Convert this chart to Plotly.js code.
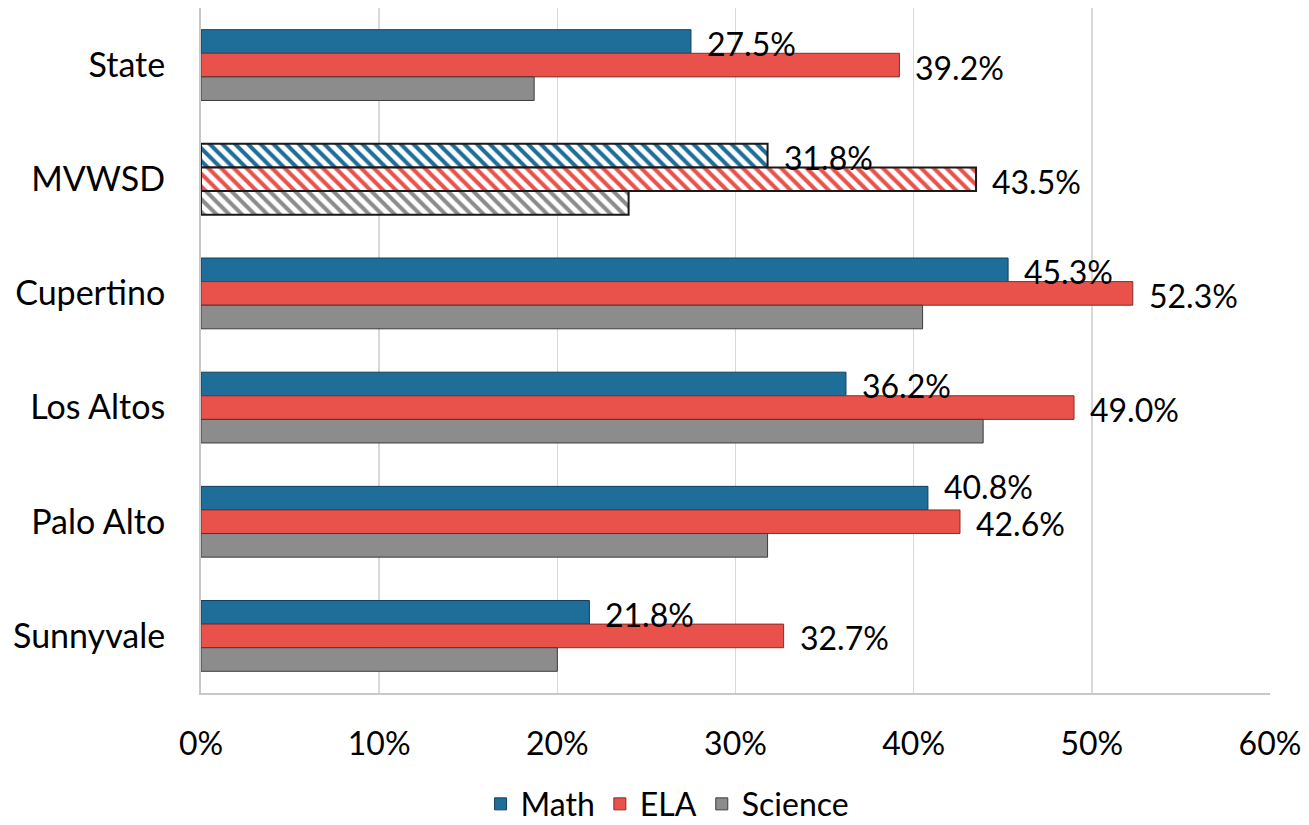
<!DOCTYPE html>
<html>
<head>
<meta charset="utf-8">
<script src="https://cdn.plot.ly/plotly-3.0.1.min.js"></script>
<style>html,body{margin:0;padding:0;background:#fff;}#chart{width:1309px;height:825px;}</style>
</head>
<body>
<div id="chart"></div>
<script>
const categories = ["State", "MVWSD", "Cupertino", "Los Altos", "Palo Alto", "Sunnyvale"];
const mathValues = [27.5, 31.8, 45.3, 36.2, 40.8, 21.8];
const elaValues = [39.2, 43.5, 52.3, 49.0, 42.6, 32.7];
const scienceValues = [18.7, 24.0, 40.5, 43.9, 31.8, 20.0];
const highlight = "MVWSD";

const FONT = "Lato, 'Open Sans', sans-serif";
const BARGAP = 0.38;
const NSERIES = 3;

function makeTrace(name, values, color, edge) {
  const isHi = categories.map(c => c === highlight);
  return {
    type: "bar",
    orientation: "h",
    name: name,
    y: categories,
    x: values,
    hoverinfo: "x+name",
    marker: {
      color: color,
      line: {
        color: isHi.map(h => h ? "#1a1a1a" : edge),
        width: isHi.map(h => h ? 2 : 1)
      },
      pattern: {
        shape: isHi.map(h => h ? "\\" : ""),
        fgcolor: isHi.map(h => color),
        bgcolor: isHi.map(h => h ? "#ffffff" : color),
        size: 9,
        solidity: 0.45,
        fillmode: "replace"
      }
    }
  };
}

const traces = [
  makeTrace("Math", mathValues, "#1f6e9a", "#0f3f5c"),
  makeTrace("ELA", elaValues, "#e8524b", "#8e2a26"),
  makeTrace("Science", scienceValues, "#8c8c8c", "#3c3c3c")
];

// data labels (Math and ELA) placed at bar ends via the axes
const barW = (1 - BARGAP) / NSERIES;
const annotations = [];
categories.forEach((c, i) => {
  const m = mathValues[i], e = elaValues[i];
  const crowded = Math.abs(e - m) < 4;
  annotations.push({
    x: m, y: i - barW, xref: "x", yref: "y",
    text: m.toFixed(1) + "%", showarrow: false,
    xanchor: "left", yanchor: "middle", xshift: 14, yshift: crowded ? 12 : -2,
    font: {family: FONT, size: 32, color: "#000"}
  });
  annotations.push({
    x: e, y: i, xref: "x", yref: "y",
    text: e.toFixed(1) + "%", showarrow: false,
    xanchor: "left", yanchor: "middle", xshift: 14, yshift: -2,
    font: {family: FONT, size: 32, color: "#000"}
  });
});

const layout = {
  width: 1309,
  height: 825,
  margin: {l: 201, r: 39, t: 8, b: 132, autoexpand: false},
  paper_bgcolor: "#ffffff",
  plot_bgcolor: "#ffffff",
  barmode: "group",
  bargap: BARGAP,
  bargroupgap: 0,
  font: {family: FONT, size: 30, color: "#000"},
  showlegend: true,
  annotations: annotations,
  legend: {
    orientation: "h",
    xref: "container",
    x: 0.51, xanchor: "center",
    y: -0.122, yanchor: "top",
    font: {family: FONT, size: 32, color: "#000"},
    itemwidth: 30,
    traceorder: "normal"
  },
  xaxis: {
    range: [0, 60],
    tickvals: [0, 10, 20, 30, 40, 50, 60],
    ticktext: ["0%", "10%", "20%", "30%", "40%", "50%", "60%"],
    showgrid: true,
    gridcolor: "#d9d9d9",
    gridwidth: 1.5,
    zeroline: false,
    showline: true,
    linecolor: "#c8c8c8",
    linewidth: 2,
    ticks: "",
    ticklabelstandoff: 22,
    tickfont: {family: FONT, size: 32, color: "#000"},
    fixedrange: true
  },
  yaxis: {
    type: "category",
    autorange: "reversed",
    showgrid: false,
    zeroline: false,
    showline: true,
    linecolor: "#c8c8c8",
    linewidth: 2,
    ticks: "",
    ticklabelstandoff: 27,
    tickfont: {family: FONT, size: 34, color: "#000"},
    fixedrange: true
  }
};

Plotly.newPlot("chart", traces, layout, {displayModeBar: false, staticPlot: true});
</script>
</body>
</html>
